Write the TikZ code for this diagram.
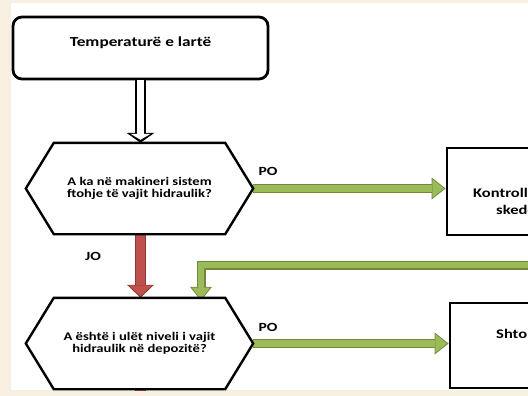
\documentclass[tikz,border=0pt]{standalone}
\usepackage{fontspec}
\setmainfont{Carlito}[FakeStretch=1.25]
\usetikzlibrary{arrows.meta,calc}
\definecolor{bgbeige}{HTML}{F7F0E1}
\definecolor{gfill}{HTML}{9BBB59}
\definecolor{gline}{HTML}{71893F}
\definecolor{rfill}{HTML}{C0504D}
\definecolor{rline}{HTML}{8C3836}
\tikzset{
  toprect/.style={draw=black, line width=2.8pt, rounded corners=9pt, fill=white, minimum width=255pt, minimum height=62pt, inner sep=0pt},
  hexbox/.style={draw=none, minimum width=227pt, minimum height=91pt, inner sep=0pt, align=center, font=\bfseries\fontsize{11.7}{12.5}\selectfont},
  hexline/.style={draw=black, line width=2.4pt, line join=miter, fill=white},
  sqbox/.style={draw=black, line width=2.8pt, fill=white, inner sep=0pt},
  btext/.style={inner sep=0pt, align=left, font=\bfseries\fontsize{13.2}{17}\selectfont},
  lbl/.style={inner sep=0pt, font=\bfseries\fontsize{12.5}{13}\selectfont},
  garrow/.style={line width=9pt, draw=gline, line join=miter,
     -{Triangle[length=14pt,width=22pt,line width=0pt]},
     postaction={draw=gfill, line width=6.6pt, line join=miter, shorten >=1.6pt,
       -{Triangle[length=11.6pt,width=18.4pt,line width=0pt]}}},
  rarrow/.style={line width=11pt, draw=rline,
     -{Triangle[length=13pt,width=27pt,line width=0pt]},
     postaction={draw=rfill, line width=8.6pt, shorten >=1.6pt,
       -{Triangle[length=10.8pt,width=23pt,line width=0pt]}}},
  rshaft/.style={line width=11pt, draw=rline, postaction={draw=rfill, line width=8.6pt}},
  harrow/.style={line width=11pt, draw=black,
     -{Triangle[length=10pt,width=28pt,line width=0pt]},
     postaction={draw=white, line width=6.4pt, shorten >=3pt,
       -{Triangle[length=6pt,width=20pt,line width=0pt]}}},
}
\begin{document}
\begin{tikzpicture}[x=1pt,y=-1pt]
\useasboundingbox (0,0) rectangle (528,396);
\fill[bgbeige] (0,0) rectangle (528,396);
\fill[white] (11,3) rectangle (528,390);
\begin{scope}
\clip (11,3) rectangle (528,390);
% nodes
\node[toprect] (t) at (140.5,48) {};
\node[inner sep=0pt, font=\bfseries\fontsize{13.8}{14}\selectfont] (tt) at (140.5,43) {Temperaturë e lartë};
\node[hexbox] (h1) at (139.5,188.5) {};
\node[hexbox] (h2) at (139.5,343.5) {};
\node[sqbox, minimum width=173pt, minimum height=87pt] (k) at (533.5,191.5) {};
\node[sqbox, minimum width=170pt, minimum height=85pt] (k2) at (535,345.5) {};
\node[btext, anchor=west] (kt) at (473,201.5) {Kontrolli\\\hspace*{23pt}skedën};
\node[btext, anchor=west] (k2t) at (496,334) {Shto};
\coordinate (ret) at (540,265);
\coordinate (bot) at (140.5,400);
% connectors (drawn under hexagons)
\draw[harrow] (t.south) -- (t.south |- h1.north);
\draw[rarrow] ([xshift=1pt]h1.south) -- ([xshift=1pt]h2.north);
\draw[rshaft] ([xshift=1pt]h2.south) -- (bot);
\draw[garrow] (ret) -| ([xshift=61.5pt,yshift=-3pt]h2.north);
\draw[garrow] (h1.east) -- (h1.east -| k.west);
\draw[garrow] (h2.east) -- (h2.east -| k2.west);
% hexagon outlines
\foreach \h in {h1,h2}{
  \draw[hexline] (\h.west) -- ([xshift=28pt]\h.north west) -- ([xshift=-28pt]\h.north east)
     -- (\h.east) -- ([xshift=-28pt]\h.south east) -- ([xshift=28pt]\h.south west) -- cycle;
}
\node[hexbox] (h1t) at (h1) {A ka në makineri sistem\\ftohje të vajit hidraulik?};
\node[hexbox] (h2t) at (h2) {A është i ulët niveli i vajit\\hidraulik në depozitë?};
% labels
\node[lbl] (po1) at (268,171) {PO};
\node[lbl] (po2) at (268,327) {PO};
\node[lbl] (jo) at (93,256) {JO};
\end{scope}
\end{tikzpicture}
\end{document}
